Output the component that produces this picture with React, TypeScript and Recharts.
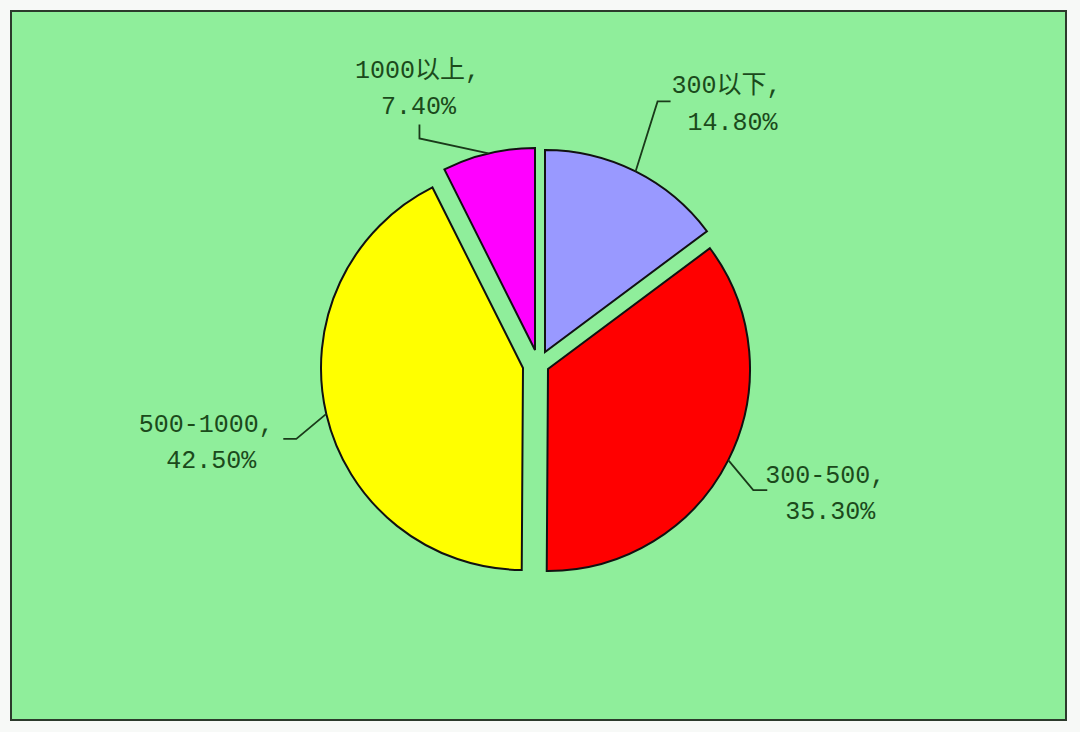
import React from 'react';
import { PieChart, Pie, Cell } from 'recharts';

const categories = ['300以下', '300-500', '500-1000', '1000以上'];
const shares = [14.8, 35.3, 42.5, 7.4];
const colors = ['#9999FF', '#FF0000', '#FFFF00', '#FF00FF'];

const data = categories.map((name, i) => ({ name, value: shares[i] }));

const RADIUS = 202;
// exploded slice centres (layout)
const sliceCenters: [number, number][] = [
  [545, 352],
  [548, 369],
  [523, 368],
  [535, 350],
];
// label layout relative to anchor on arc: elbow, end, line1 centre, line2 centre
const labelLayout = [
  { elbow: [22, -70], end: [35, -70], t1: [91, -85], t2: [97, -48] },
  { elbow: [25, 30], end: [39, 30], t1: [97, 16], t2: [102, 52] },
  { elbow: [-30, 25], end: [-43, 25], t1: [-120, 12], t2: [-115, 48] },
  { elbow: [-69, -15], end: [-69, -29], t1: [-71, -82], t2: [-70, -46] },
];

const RAD = Math.PI / 180;
const TEXT_COLOR = '#1b4a1b';
const FONT = "'Liberation Mono', 'Noto Sans CJK SC', monospace";

const makeLabel = (target: number) => (props: any) => {
  const { cx, cy, midAngle, outerRadius, index, payload, value } = props;
  if (index !== target) return null;
  const ax = cx + outerRadius * Math.cos(-midAngle * RAD);
  const ay = cy + outerRadius * Math.sin(-midAngle * RAD);
  const L = labelLayout[target];
  const name = payload?.name ?? categories[target];
  return (
    <g>
      <polyline
        points={`${ax},${ay} ${ax + L.elbow[0]},${ay + L.elbow[1]} ${ax + L.end[0]},${ay + L.end[1]}`}
        fill="none"
        stroke="#1a3a1a"
        strokeWidth={1.8}
      />
      <text
        x={ax + L.t1[0]}
        y={ay + L.t1[1]}
        textAnchor="middle"
        dominantBaseline="central"
        fontFamily={FONT}
        fontSize={25}
        fill={TEXT_COLOR}
      >
        {`${name},`}
      </text>
      <text
        x={ax + L.t2[0]}
        y={ay + L.t2[1]}
        textAnchor="middle"
        dominantBaseline="central"
        fontFamily={FONT}
        fontSize={25}
        fill={TEXT_COLOR}
      >
        {`${Number(value).toFixed(2)}%`}
      </text>
    </g>
  );
};

export default function App() {
  return (
    <div style={{ position: 'absolute', left: 0, top: 0, width: 1080, height: 732, background: '#f7f9f7' }}>
      <div
        style={{
          position: 'absolute',
          left: 10,
          top: 10,
          width: 1053,
          height: 707,
          border: '2px solid #2c3a2c',
          background: '#8fee9b',
        }}
      />
      <div style={{ position: 'absolute', left: 0, top: 0 }}>
        <PieChart width={1080} height={732} margin={{ top: 0, right: 0, bottom: 0, left: 0 }}>
          {sliceCenters.map((c, i) => (
            <Pie
              key={i}
              data={data}
              dataKey="value"
              nameKey="name"
              cx={c[0]}
              cy={c[1]}
              innerRadius={0}
              outerRadius={RADIUS}
              startAngle={90}
              endAngle={-270}
              isAnimationActive={false}
              labelLine={false}
              label={makeLabel(i)}
            >
              {data.map((_, j) => (
                <Cell
                  key={j}
                  fill={j === i ? colors[j] : 'transparent'}
                  stroke={j === i ? '#111' : 'none'}
                  strokeWidth={j === i ? 2 : 0}
                />
              ))}
            </Pie>
          ))}
        </PieChart>
      </div>
    </div>
  );
}
